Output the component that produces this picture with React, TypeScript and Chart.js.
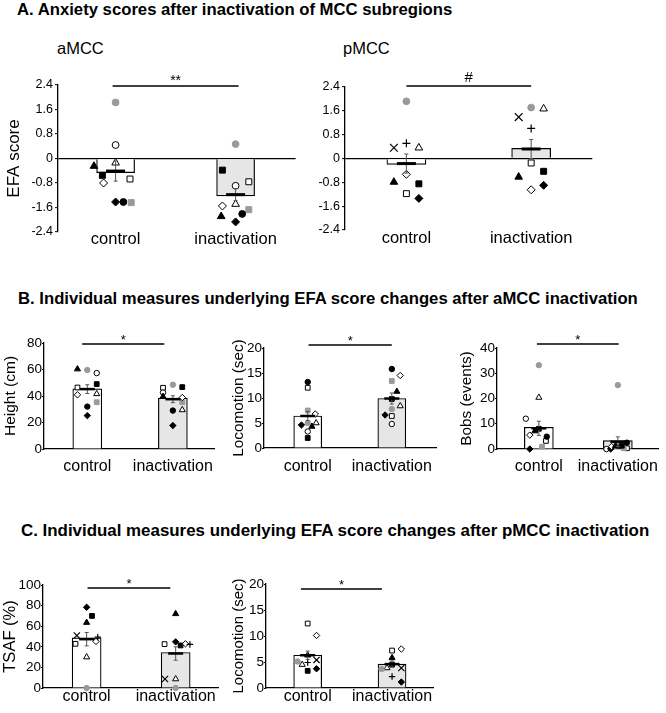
import React, { useEffect, useRef } from 'react';
import { Chart, registerables } from 'chart.js';

Chart.register(...registerables);

const FONT = '"Liberation Sans", Arial, Helvetica, sans-serif';

// ---------------- categories & tick labels ----------------
const categories = ['control', 'inactivation'];
const yTicksEFA = [-2.4, -1.6, -0.8, 0, 0.8, 1.6, 2.4];
const yTicksHeight = [0, 20, 40, 60, 80];
const yTicksLoco = [0, 5, 10, 15, 20];
const yTicksBobs = [0, 10, 20, 30, 40];
const yTicksTSAF = [0, 20, 40, 60, 80, 100];

// animals (marker identity)
const animalsA = ['fTri', 'fSq', 'oDia', 'fDia', 'fCirc', 'gCirc', 'gSq', 'oCirc', 'oTri', 'oSq'];
const animalsP = ['gCirc', 'xX', 'plus', 'oTri', 'oDia', 'fTri', 'fSq', 'oSq', 'fDia'];

// ---------------- A: aMCC EFA ----------------
const efaA_control = [-0.25, -0.55, -0.8, -1.42, -1.42, 1.83, -1.44, 0.44, -0.14, -0.67];
const efaA_inact = [-1.89, -0.38, -1.55, -2.07, -1.81, 0.47, -1.67, -0.89, -1.49, -0.76];
const efaA_jitC = [-0.18, -0.11, -0.1, 0, 0.065, 0, 0.13, 0, 0, 0.12];
const efaA_jitI = [-0.12, -0.11, -0.11, 0, 0.055, 0, 0.11, 0, 0, 0.11];
const efaA_bars = [-0.46, -1.22];
const efaA_means = [-0.41, -1.18];
const efaA_sem = [0.33, 0.2];

// ---------------- A: pMCC EFA ----------------
const efaP_control = [1.92, 0.36, 0.51, 0.36, -0.53, -0.79, -0.85, -1.18, -1.34];
const efaP_inact = [1.71, 1.39, 1.01, 1.67, -1.05, -0.62, -0.43, -0.15, -0.9];
const efaP_jitC = [0, -0.1, 0, 0.1, 0, -0.1, 0.1, 0, 0.1];
const efaP_jitI = [0, -0.1, 0, 0.1, 0, -0.1, 0.1, 0, 0.1];
const efaP_bars = [-0.2, 0.34];
const efaP_means = [-0.17, 0.32];
const efaP_sem = [0.32, 0.32];

// ---------------- B: Height ----------------
const height_control = [60.3, 49, 40.9, 25.2, 32, 59.6, 35.3, 57.3, 41.6, 46.4];
const height_inact = [39.6, 46.7, 38.9, 17.7, 29, 48.5, 35.3, 42.6, 29.5, 46.2];
const height_jitC = [-0.115, 0.11, -0.115, 0, 0, 0, 0.11, 0.11, 0.11, -0.115];
const height_jitI = [-0.115, 0.11, 0.11, 0, 0, 0, 0.11, -0.115, 0.11, -0.115];
const height_bars = [45.4, 38.4];
const height_means = [45.2, 37.6];
const height_sem = [3.3, 2.6];

// ---------------- B: Locomotion (aMCC) ----------------
const locoA_control = [4.3, 2.0, 6.8, 4.6, 13.2, 5.0, 7.5, 3.3, 5.0, 12.05];
const locoA_inact = [11.3, 9.8, 14.5, 6.6, 15.8, 7.8, 13.4, 4.8, 8.4, 6.4];
const locoA_jitC = [0.05, 0, 0.09, -0.075, 0, 0, 0, 0, 0.1, 0];
const locoA_jitI = [0.06, 0, 0.1, -0.08, 0, 0, 0, 0, 0.1, 0];
const locoA_bars = [6.4, 9.9];
const locoA_means = [6.4, 9.9];
const locoA_sem = [0.9, 1.1];

// ---------------- B: Bobs ----------------
const bobs_control = [7.1, 8.0, 5.5, 0, 4.9, 33.2, 0.9, 12, 20.4, 3.2];
const bobs_inact = [1.3, 1.3, 1.0, 0, 2.5, 25.3, 0.3, 0, 1.0, 0.3];
const bobs_jitC = [-0.05, 0, -0.115, -0.115, 0.1, 0, 0.04, -0.165, 0, 0.09];
const bobs_jitI = [-0.03, 0.05, -0.08, -0.09, 0.115, 0, 0.075, -0.145, 0.025, 0.115];
const bobs_bars = [8.6, 3.3];
const bobs_means = [8.2, 2.9];
const bobs_sem = [2.8, 1.9];

// ---------------- C: TSAF ----------------
const tsaf_control = [0, 51, 49.4, 30, 45.2, 63.5, 70, 42.9, 78.4];
const tsaf_inact = [0, 8.7, 42.3, 8.7, 42.9, 72, 41.3, 42.6, 44.8];
const tsaf_jitC = [0, -0.11, 0.125, 0, 0.105, 0, 0.06, -0.125, 0];
const tsaf_jitI = [0, -0.12, 0.16, 0, 0.11, 0, 0.055, -0.125, 0];
const tsaf_bars = [48.7, 34.5];
const tsaf_means = [47.4, 33.5];
const tsaf_sem = [6.5, 6.5];

// ---------------- C: Locomotion (pMCC) ----------------
const locoP_control = [5.1, 5.4, 4.9, 4.5, 10.1, 6.3, 3.3, 12.4, 3.7];
const locoP_inact = [3.65, 3.85, 2.2, 3.85, 7.5, 5.8, 4.5, 7.2, 1.15];
const locoP_jitC = [-0.12, 0.105, 0, -0.065, 0.105, 0, 0, 0, 0.105];
const locoP_jitI = [-0.125, 0.11, 0, -0.06, 0.11, 0, 0, 0, 0.11];
const locoP_bars = [6.3, 4.6];
const locoP_means = [6.3, 4.6];
const locoP_sem = [0.8, 0.6];

// ---------------- styles ----------------
const GREY = '#9a9a9a';
const MARKERS: Record<string, { style: string; fill: string; stroke: string; r: number; bw: number }> = {
  fTri: { style: 'triangle', fill: '#000', stroke: '#000', r: 4.4, bw: 1 },
  oTri: { style: 'triangle', fill: '#fff', stroke: '#000', r: 4.4, bw: 1 },
  fSq: { style: 'rect', fill: '#000', stroke: '#000', r: 4.2, bw: 1 },
  oSq: { style: 'rect', fill: '#fff', stroke: '#000', r: 4.2, bw: 1 },
  gSq: { style: 'rect', fill: GREY, stroke: GREY, r: 4.2, bw: 1 },
  fDia: { style: 'rectRot', fill: '#000', stroke: '#000', r: 4, bw: 1 },
  oDia: { style: 'rectRot', fill: '#fff', stroke: '#000', r: 4, bw: 1 },
  fCirc: { style: 'circle', fill: '#000', stroke: '#000', r: 3.4, bw: 1 },
  oCirc: { style: 'circle', fill: '#fff', stroke: '#000', r: 3.4, bw: 1 },
  gCirc: { style: 'circle', fill: GREY, stroke: GREY, r: 3.4, bw: 1 },
  xX: { style: 'crossRot', fill: '#000', stroke: '#000', r: 5.5, bw: 1.2 },
  plus: { style: 'cross', fill: '#000', stroke: '#000', r: 4, bw: 1.2 },
};

const PAD_TOP = 30;
const PAD_R = 4;
const XH = 40;

type Layout = {
  axisX: number; right: number; top: number; bottom: number; canvasLeft: number;
  xMin: number; xMax: number; barW: number; meanHalf: number; meanW: number; capHalf: number;
  markScale: number; tickFont: number; catFont: number; titleFont: number;
  tickLen: number; tickPad: number; catPad: number; catLH: number;
  sigFrom: number; sigTo: number; sigDy: number; sigFont: number; sigTextDy: number;
  zeroLine: boolean;
};

type Spec = {
  key: string; animals: string[]; ctrl: number[]; inact: number[]; jitC: number[]; jitI: number[];
  bars: number[]; means: number[]; sem: number[]; yTicks: number[]; yTitle: string; sig: string; L: Layout;
};

const baseA = {
  meanHalf: 9.5, meanW: 3, capHalf: 2, markScale: 1, tickFont: 12.5, catFont: 16.5, titleFont: 17,
  tickLen: 3, tickPad: 2, zeroLine: true,
};
const baseBC = {
  meanHalf: 7.5, meanW: 2.5, capHalf: 2, markScale: 0.8, tickFont: 13.5, catFont: 16,
  tickLen: 2, tickPad: 0, sigFont: 13, sigTextDy: 0, zeroLine: false,
};

const SPECS: Spec[] = [
  {
    key: 'aMCC', animals: animalsA, ctrl: efaA_control, inact: efaA_inact, jitC: efaA_jitC, jitI: efaA_jitI,
    bars: efaA_bars, means: efaA_means, sem: efaA_sem, yTicks: yTicksEFA, yTitle: 'EFA score', sig: '**',
    L: { ...baseA, axisX: 58, right: 297, top: 85, bottom: 232, canvasLeft: 4, xMin: 0.52, xMax: 2.5, barW: 38,
      catPad: 0, catLH: 0.85, sigFrom: 0.975, sigTo: 2.025, sigDy: 1, sigFont: 14, sigTextDy: -1 },
  },
  {
    key: 'pMCC', animals: animalsP, ctrl: efaP_control, inact: efaP_inact, jitC: efaP_jitC, jitI: efaP_jitI,
    bars: efaP_bars, means: efaP_means, sem: efaP_sem, yTicks: yTicksEFA, yTitle: '', sig: '#',
    L: { ...baseA, axisX: 345, right: 595, top: 87, bottom: 230, canvasLeft: 314, xMin: 0.508, xMax: 2.49, barW: 39,
      catPad: 0, catLH: 0.97, sigFrom: 1, sigTo: 2, sigDy: -1, sigFont: 15, sigTextDy: -4 },
  },
  {
    key: 'height', animals: animalsA, ctrl: height_control, inact: height_inact, jitC: height_jitC, jitI: height_jitI,
    bars: height_bars, means: height_means, sem: height_sem, yTicks: yTicksHeight, yTitle: 'Height (cm)', sig: '*',
    L: { ...baseBC, axisX: 44, right: 218, top: 343, bottom: 449, canvasLeft: 1, xMin: 0.494, xMax: 2.49, barW: 29,
      titleFont: 15.5, catPad: 8, catLH: 1.2, sigFrom: 0.94, sigTo: 1.9, sigDy: 1 },
  },
  {
    key: 'locoA', animals: animalsA, ctrl: locoA_control, inact: locoA_inact, jitC: locoA_jitC, jitI: locoA_jitI,
    bars: locoA_bars, means: locoA_means, sem: locoA_sem, yTicks: yTicksLoco, yTitle: 'Locomotion (sec)', sig: '*',
    L: { ...baseBC, axisX: 264, right: 438, top: 348, bottom: 448, canvasLeft: 230, xMin: 0.48, xMax: 2.53, barW: 28,
      titleFont: 15.3, catPad: 9, catLH: 1.2, sigFrom: 1.01, sigTo: 2.0, sigDy: -3 },
  },
  {
    key: 'bobs', animals: animalsA, ctrl: bobs_control, inact: bobs_inact, jitC: bobs_jitC, jitI: bobs_jitI,
    bars: bobs_bars, means: bobs_means, sem: bobs_sem, yTicks: yTicksBobs, yTitle: 'Bobs (events)', sig: '*',
    L: { ...baseBC, axisX: 497, right: 663, top: 348, bottom: 449, canvasLeft: 458, xMin: 0.47, xMax: 2.52, barW: 29,
      titleFont: 15.3, catPad: 8, catLH: 1.2, sigFrom: 0.975, sigTo: 2.01, sigDy: -4 },
  },
  {
    key: 'tsaf', animals: animalsP, ctrl: tsaf_control, inact: tsaf_inact, jitC: tsaf_jitC, jitI: tsaf_jitI,
    bars: tsaf_bars, means: tsaf_means, sem: tsaf_sem, yTicks: yTicksTSAF, yTitle: 'TSAF (%)', sig: '*',
    L: { ...baseBC, axisX: 43, right: 220, top: 585, bottom: 688, canvasLeft: 1, xMin: 0.51, xMax: 2.48, barW: 29,
      titleFont: 16.5, catPad: 0, catLH: 1.125, sigFrom: 1.01, sigTo: 1.94, sigDy: 3 },
  },
  {
    key: 'locoP', animals: animalsP, ctrl: locoP_control, inact: locoP_inact, jitC: locoP_jitC, jitI: locoP_jitI,
    bars: locoP_bars, means: locoP_means, sem: locoP_sem, yTicks: yTicksLoco, yTitle: 'Locomotion (sec)', sig: '*',
    L: { ...baseBC, axisX: 266, right: 435, top: 584, bottom: 688, canvasLeft: 230, xMin: 0.506, xMax: 2.49, barW: 28,
      titleFont: 15, catPad: 0, catLH: 1.125, sigFrom: 0.92, sigTo: 1.88, sigDy: 5 },
  },
];

function overlayPlugin(spec: Spec) {
  return {
    id: 'overlay_' + spec.key,
    afterDatasetsDraw(chart: any) {
      const { ctx, chartArea } = chart;
      const xs = chart.scales.x;
      const ys = chart.scales.y;
      const L = spec.L;
      ctx.save();
      for (let i = 0; i < 2; i++) {
        const px = xs.getPixelForValue(i + 1);
        const pm = ys.getPixelForValue(spec.means[i]);
        const pHi = ys.getPixelForValue(spec.means[i] + spec.sem[i]);
        const pLo = ys.getPixelForValue(spec.means[i] - spec.sem[i]);
        ctx.strokeStyle = '#555';
        ctx.lineWidth = 1;
        ctx.beginPath();
        ctx.moveTo(px, pHi);
        ctx.lineTo(px, pLo);
        ctx.moveTo(px - L.capHalf, pHi);
        ctx.lineTo(px + L.capHalf, pHi);
        ctx.moveTo(px - L.capHalf, pLo);
        ctx.lineTo(px + L.capHalf, pLo);
        ctx.stroke();
        ctx.strokeStyle = '#000';
        ctx.lineWidth = L.meanW;
        ctx.beginPath();
        ctx.moveTo(px - L.meanHalf, pm);
        ctx.lineTo(px + L.meanHalf, pm);
        ctx.stroke();
      }
      const sy = chartArea.top + L.sigDy;
      const x1 = xs.getPixelForValue(L.sigFrom);
      const x2 = xs.getPixelForValue(L.sigTo);
      ctx.strokeStyle = '#000';
      ctx.lineWidth = 1.4;
      ctx.beginPath();
      ctx.moveTo(x1, sy);
      ctx.lineTo(x2, sy);
      ctx.stroke();
      ctx.fillStyle = '#000';
      ctx.font = `${L.sigFont}px ${FONT}`;
      ctx.textAlign = 'center';
      ctx.textBaseline = 'alphabetic';
      ctx.fillText(spec.sig, (x1 + x2) / 2, sy + L.sigTextDy);
      ctx.restore();
    },
  };
}

function makeConfig(spec: Spec): any {
  const L = spec.L;
  const pointSets = spec.animals.map((a, i) => {
    const m = MARKERS[a];
    return {
      type: 'scatter',
      label: a,
      data: [
        { x: 1 + spec.jitC[i], y: spec.ctrl[i] },
        { x: 2 + spec.jitI[i], y: spec.inact[i] },
      ],
      pointStyle: m.style,
      pointRadius: m.r * L.markScale,
      pointHoverRadius: m.r * L.markScale,
      backgroundColor: m.fill,
      borderColor: m.stroke,
      pointBackgroundColor: m.fill,
      pointBorderColor: m.stroke,
      pointBorderWidth: m.bw,
      showLine: false,
      clip: false,
      order: 0,
    };
  });
  const yW = L.axisX - L.canvasLeft;
  const yGrid = L.zeroLine
    ? {
        display: true,
        drawOnChartArea: true,
        color: (c: any) => (c.tick && c.tick.value === 0 ? '#000' : 'rgba(0,0,0,0)'),
        lineWidth: 1.3,
        tickColor: '#000',
        tickLength: L.tickLen,
        tickWidth: 1,
      }
    : { display: true, drawOnChartArea: false, tickColor: '#000', tickLength: L.tickLen, tickWidth: 1 };
  return {
    type: 'bar',
    data: {
      datasets: [
        {
          type: 'bar',
          data: [
            { x: 1, y: spec.bars[0] },
            { x: 2, y: spec.bars[1] },
          ],
          backgroundColor: ['#ffffff', '#e6e6e6'],
          borderColor: '#000',
          borderWidth: 1.2,
          barThickness: L.barW,
          order: 1,
        },
        ...pointSets,
      ],
    },
    options: {
      animation: false,
      responsive: false,
      devicePixelRatio: 1,
      events: [],
      layout: { padding: { top: PAD_TOP, right: PAD_R, left: 0, bottom: 0 } },
      plugins: { legend: { display: false }, tooltip: { enabled: false }, title: { display: false } },
      scales: {
        x: {
          type: 'linear',
          min: L.xMin,
          max: L.xMax,
          offset: false,
          afterBuildTicks: (s: any) => {
            s.ticks = [{ value: 1 }, { value: 2 }];
          },
          afterFit: (s: any) => {
            s.height = XH;
          },
          ticks: {
            callback: (v: any) => categories[Math.round(Number(v)) - 1] ?? '',
            font: { family: FONT, size: L.catFont, lineHeight: L.catLH },
            color: '#000',
            padding: L.catPad,
            maxRotation: 0,
            autoSkip: false,
          },
          grid: { display: true, drawOnChartArea: false, drawTicks: false, offset: false },
          border: { display: !L.zeroLine, color: '#000', width: 1.3 },
        },
        y: {
          type: 'linear',
          min: spec.yTicks[0],
          max: spec.yTicks[spec.yTicks.length - 1],
          afterBuildTicks: (s: any) => {
            s.ticks = spec.yTicks.map((v) => ({ value: v }));
          },
          afterFit: (s: any) => {
            s.width = yW;
          },
          ticks: {
            callback: (v: any) => String(v),
            font: { family: FONT, size: L.tickFont },
            color: '#000',
            padding: L.tickPad,
            autoSkip: false,
          },
          grid: yGrid,
          border: { display: true, color: '#000', width: 1.3 },
          title: {
            display: !!spec.yTitle,
            text: spec.yTitle,
            font: { family: FONT, size: L.titleFont, lineHeight: 1.2 },
            color: '#000',
            padding: 0,
          },
        },
      },
    },
    plugins: [overlayPlugin(spec)],
  };
}

function ChartBox({ spec }: { spec: Spec }) {
  const ref = useRef<HTMLCanvasElement>(null);
  const L = spec.L;
  const w = L.right + PAD_R - L.canvasLeft;
  const h = L.bottom - L.top + PAD_TOP + XH;
  useEffect(() => {
    if (!ref.current) return;
    const chart = new Chart(ref.current, makeConfig(spec));
    return () => chart.destroy();
  }, [spec]);
  return (
    <canvas
      ref={ref}
      width={w}
      height={h}
      style={{ position: 'absolute', left: L.canvasLeft, top: L.top - PAD_TOP, width: w, height: h }}
    />
  );
}

const textStyle = (left: number, top: number, size: number, bold: boolean): React.CSSProperties => ({
  position: 'absolute',
  left,
  top,
  fontFamily: FONT,
  fontSize: size,
  fontWeight: bold ? 'bold' : 'normal',
  lineHeight: '20px',
  whiteSpace: 'nowrap',
  color: '#000',
});

export default function App() {
  return (
    <div
      style={{ position: 'absolute', left: 0, top: 0, width: 666, height: 713, background: '#fff', overflow: 'hidden' }}
    >
      <div style={textStyle(17, 0, 16.7, true)}>A. Anxiety scores after inactivation of MCC subregions</div>
      <div style={textStyle(57, 38, 16.5, false)}>aMCC</div>
      <div style={textStyle(343, 38, 16.5, false)}>pMCC</div>
      <div style={textStyle(18, 289, 16.7, true)}>
        B. Individual measures underlying EFA score changes after aMCC inactivation
      </div>
      <div style={textStyle(21, 521, 16.9, true)}>
        C. Individual measures underlying EFA score changes after pMCC inactivation
      </div>
      {SPECS.map((s) => (
        <ChartBox key={s.key} spec={s} />
      ))}
    </div>
  );
}
